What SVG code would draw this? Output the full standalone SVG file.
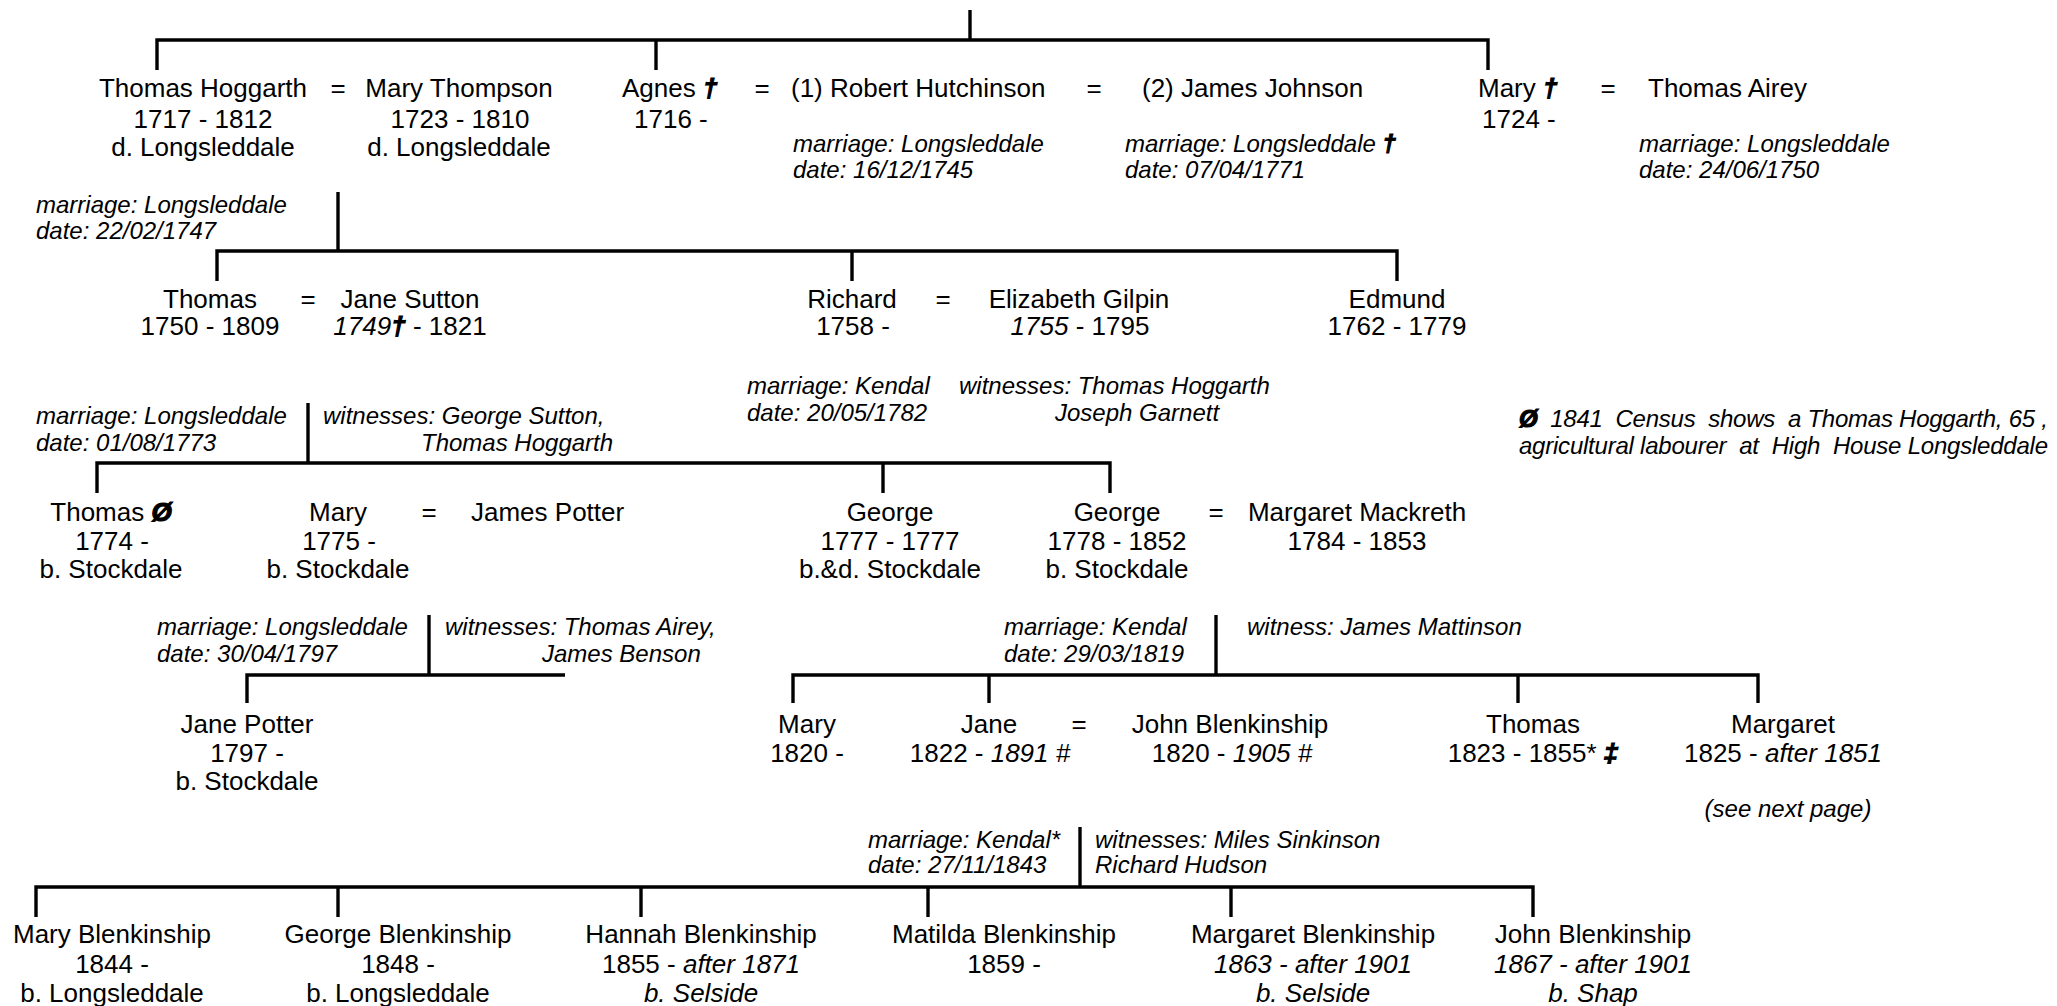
<svg xmlns="http://www.w3.org/2000/svg" width="2057" height="1006" viewBox="0 0 2057 1006">
<style>
text{font-family:"Liberation Sans",Arial,sans-serif;fill:#000}
.n{font-size:26px}
.c{text-anchor:middle}
.i{font-size:24px;font-style:italic}
.it{font-style:italic}
.s{font-weight:bold;font-style:italic;stroke:#000;stroke-width:1.2}
.ln{fill:none;stroke:#000;stroke-width:3.4;stroke-linejoin:miter;stroke-linecap:butt}
</style>
<rect width="2057" height="1006" fill="#fff"/>
<g id="connectors" class="ln">
<path d="M970 10V40"/>
<path d="M157 70V40H1488V70"/>
<path d="M656 40V70"/>
<path d="M338 192V251"/>
<path d="M217 281V251H1397V281"/>
<path d="M852 251V281"/>
<path d="M308 403V463"/>
<path d="M97 493V463H1110V493"/>
<path d="M883 463V493"/>
<path d="M429 615V675"/>
<path d="M247 703V675H565"/>
<path d="M1216 615V675"/>
<path d="M793 703V675H1758V703"/>
<path d="M989 675V703"/>
<path d="M1518 675V703"/>
<path d="M1080 827V887"/>
<path d="M36 917V887H1533V917"/>
<path d="M338 887V917"/>
<path d="M641 887V917"/>
<path d="M928 887V917"/>
<path d="M1231 887V917"/>
</g>
<g id="thomas-hoggarth" class="n c"><text x="203" y="97">Thomas Hoggarth</text><text x="203" y="128">1717 - 1812</text><text x="203" y="156">d. Longsleddale</text></g>
<text class="n c" x="338" y="97">=</text>
<g id="mary-thompson" class="n c"><text x="459" y="97">Mary Thompson</text><text x="460" y="128">1723 - 1810</text><text x="459" y="156">d. Longsleddale</text></g>
<g id="agnes" class="n"><text x="622" y="97">Agnes <tspan class="s">†</tspan></text><text x="634" y="128">1716 -</text></g>
<text class="n c" x="762" y="97">=</text>
<g id="robert-hutchinson" class="n"><text x="791" y="97">(1) Robert Hutchinson</text></g>
<text class="n c" x="1094" y="97">=</text>
<g id="james-johnson" class="n"><text x="1142" y="97">(2) James Johnson</text></g>
<g id="mary-1724" class="n"><text x="1478" y="97">Mary <tspan class="s">†</tspan></text><text x="1482" y="128">1724 -</text></g>
<text class="n c" x="1608" y="97">=</text>
<g id="thomas-airey" class="n"><text x="1648" y="97">Thomas Airey</text></g>
<g id="m-hutchinson" class="i"><text x="793" y="152">marriage: Longsleddale</text><text x="793" y="178">date: 16/12/1745</text></g>
<g id="m-johnson" class="i"><text x="1125" y="152">marriage: Longsleddale <tspan class="s">†</tspan></text><text x="1125" y="178">date: 07/04/1771</text></g>
<g id="m-airey" class="i"><text x="1639" y="152">marriage: Longsleddale</text><text x="1639" y="178">date: 24/06/1750</text></g>
<g id="m-hoggarth" class="i"><text x="36" y="213">marriage: Longsleddale</text><text x="36" y="239">date: 22/02/1747</text></g>
<g id="thomas-1750" class="n c"><text x="210" y="308">Thomas</text><text x="210" y="335">1750 - 1809</text></g>
<text class="n c" x="308" y="308">=</text>
<g id="jane-sutton" class="n c"><text x="410" y="308">Jane Sutton</text><text x="410" y="335"><tspan class="it">1749</tspan><tspan class="s">†</tspan> - 1821</text></g>
<g id="richard" class="n c"><text x="852" y="308">Richard</text><text x="853" y="335">1758 -</text></g>
<text class="n c" x="943" y="308">=</text>
<g id="elizabeth-gilpin" class="n c"><text x="1079" y="308">Elizabeth Gilpin</text><text x="1080" y="335"><tspan class="it">1755</tspan> - 1795</text></g>
<g id="edmund" class="n c"><text x="1397" y="308">Edmund</text><text x="1397" y="335">1762 - 1779</text></g>
<g id="m-sutton" class="i"><text x="36" y="424">marriage: Longsleddale</text><text x="36" y="451">date: 01/08/1773</text><text x="323" y="424">witnesses: George Sutton,</text><text x="421" y="451">Thomas Hoggarth</text></g>
<g id="m-gilpin" class="i"><text x="747" y="394">marriage: Kendal</text><text x="747" y="421">date: 20/05/1782</text><text x="959" y="394">witnesses: Thomas Hoggarth</text><text x="1055" y="421">Joseph Garnett</text></g>
<g id="census-note" class="i"><text xml:space="preserve" x="1519" y="427" textLength="529" lengthAdjust="spacing"><tspan class="s">Ø</tspan>  1841  Census  shows  a Thomas Hoggarth, 65 ,</text><text xml:space="preserve" x="1519" y="454" textLength="529" lengthAdjust="spacing">agricultural labourer  at  High  House Longsleddale</text></g>
<g id="thomas-1774" class="n c"><text x="111" y="521">Thomas <tspan class="s">Ø</tspan></text><text x="112" y="550">1774 -</text><text x="111" y="578">b. Stockdale</text></g>
<g id="mary-1775" class="n c"><text x="338" y="521">Mary</text><text x="339" y="550">1775 -</text><text x="338" y="578">b. Stockdale</text></g>
<text class="n c" x="429" y="521">=</text>
<g id="james-potter" class="n"><text x="471" y="521">James Potter</text></g>
<g id="george-1777" class="n c"><text x="890" y="521">George</text><text x="890" y="550">1777 - 1777</text><text x="890" y="578">b.&amp;d. Stockdale</text></g>
<g id="george-1778" class="n c"><text x="1117" y="521">George</text><text x="1117" y="550">1778 - 1852</text><text x="1117" y="578">b. Stockdale</text></g>
<text class="n c" x="1216" y="521">=</text>
<g id="margaret-mackreth" class="n c"><text x="1357" y="521">Margaret Mackreth</text><text x="1357" y="550">1784 - 1853</text></g>
<g id="m-potter" class="i"><text x="157" y="635">marriage: Longsleddale</text><text x="157" y="662">date: 30/04/1797</text><text x="445" y="635">witnesses: Thomas Airey,</text><text x="542" y="662">James Benson</text></g>
<g id="m-mackreth" class="i"><text x="1004" y="635">marriage: Kendal</text><text x="1004" y="662">date: 29/03/1819</text><text x="1247" y="635">witness: James Mattinson</text></g>
<g id="jane-potter" class="n c"><text x="247" y="733">Jane Potter</text><text x="247" y="762">1797 -</text><text x="247" y="790">b. Stockdale</text></g>
<g id="mary-1820" class="n c"><text x="807" y="733">Mary</text><text x="807" y="762">1820 -</text></g>
<g id="jane-1822" class="n c"><text x="989" y="733">Jane</text><text x="990" y="762">1822 - <tspan class="it">1891 #</tspan></text></g>
<text class="n c" x="1079" y="733">=</text>
<g id="john-blenkinship-1820" class="n c"><text x="1230" y="733">John Blenkinship</text><text x="1232" y="762">1820 - <tspan class="it">1905 #</tspan></text></g>
<g id="thomas-1823" class="n c"><text x="1533" y="733">Thomas</text><text x="1533" y="762">1823 - 1855* <tspan class="s">‡</tspan></text></g>
<g id="margaret-1825" class="n c"><text x="1783" y="733">Margaret</text><text x="1783" y="762">1825 - <tspan class="it">after 1851</tspan></text></g>
<text class="i c" x="1788" y="817">(see next page)</text>
<g id="m-blenkinship" class="i"><text x="868" y="848">marriage: Kendal*</text><text x="868" y="873">date: 27/11/1843</text><text x="1095" y="848">witnesses: Miles Sinkinson</text><text x="1095" y="873">Richard Hudson</text></g>
<g id="mary-blenkinship" class="n c"><text x="112" y="943">Mary Blenkinship</text><text x="112" y="973">1844 -</text><text x="112" y="1002">b. Longsleddale</text></g>
<g id="george-blenkinship" class="n c"><text x="398" y="943">George Blenkinship</text><text x="398" y="973">1848 -</text><text x="398" y="1002">b. Longsleddale</text></g>
<g id="hannah-blenkinship" class="n c"><text x="701" y="943">Hannah Blenkinship</text><text x="701" y="973">1855 - <tspan class="it">after 1871</tspan></text><text x="701" y="1002" class="it">b. Selside</text></g>
<g id="matilda-blenkinship" class="n c"><text x="1004" y="943">Matilda Blenkinship</text><text x="1004" y="973">1859 -</text></g>
<g id="margaret-blenkinship" class="n c"><text x="1313" y="943">Margaret Blenkinship</text><text x="1313" y="973" class="it">1863 - after 1901</text><text x="1313" y="1002" class="it">b. Selside</text></g>
<g id="john-blenkinship-1867" class="n c"><text x="1593" y="943">John Blenkinship</text><text x="1593" y="973" class="it">1867 - after 1901</text><text x="1593" y="1002" class="it">b. Shap</text></g>
</svg>
